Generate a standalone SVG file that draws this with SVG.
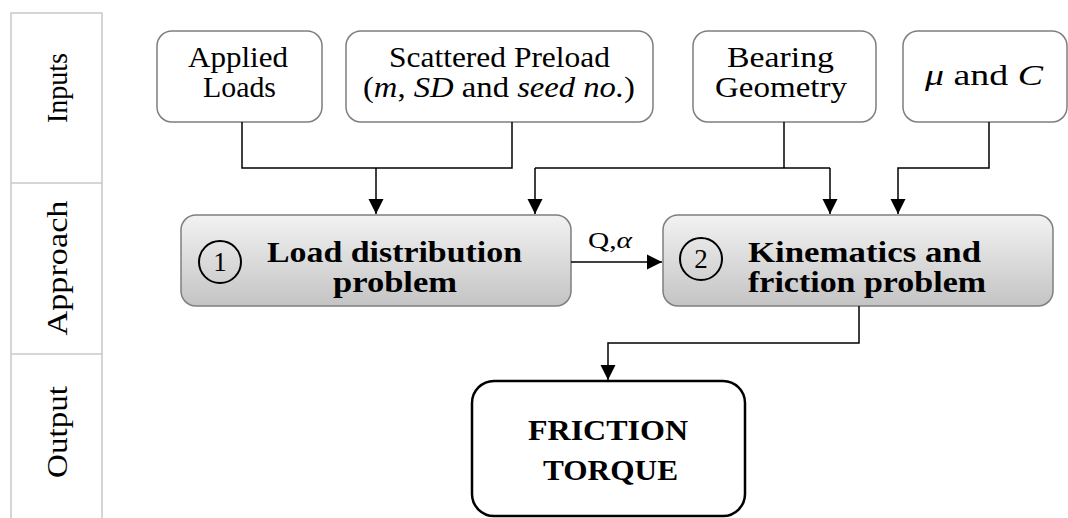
<svg xmlns="http://www.w3.org/2000/svg" width="1068" height="518" viewBox="0 0 1068 518">
<style>
text{font-family:"Liberation Serif","Times New Roman",serif;fill:#000}
.in{font-size:29px;text-anchor:middle}
.b{font-size:29px;font-weight:bold;text-anchor:middle}
.side{font-size:30px;text-anchor:middle}
.ibox{fill:#fff;stroke:#7f7f7f;stroke-width:1.5}
.pbox{fill:url(#g);stroke:#7f7f7f;stroke-width:1.5}
.num{fill:none;stroke:#000;stroke-width:2}
.conn{fill:none;stroke:#000;stroke-width:1.5}
</style>
<defs>
<linearGradient id="g" x1="0" y1="0" x2="0" y2="1">
<stop offset="0" stop-color="#f2f2f2"/>
<stop offset="1" stop-color="#c4c4c4"/>
</linearGradient>
<marker id="ah" markerUnits="userSpaceOnUse" markerWidth="16" markerHeight="16" refX="15" refY="8" orient="auto" viewBox="0 0 16 16">
<path d="M0,0.5 L15,8 L0,15.5 z" fill="#000"/>
</marker>
</defs>
<rect width="1068" height="518" fill="#fff"/>

<g id="side-panel">
<path d="M11,518 V13 H102 V518" fill="none" stroke="#c8c8c8" stroke-width="1.5"/>
<line x1="11" y1="183" x2="102" y2="183" stroke="#c8c8c8" stroke-width="1.5"/>
<line x1="11" y1="354" x2="102" y2="354" stroke="#c8c8c8" stroke-width="1.5"/>
<text class="side" transform="translate(67,88) rotate(-90)" textLength="70" lengthAdjust="spacingAndGlyphs">Inputs</text>
<text class="side" transform="translate(67,268) rotate(-90)" textLength="135" lengthAdjust="spacingAndGlyphs">Approach</text>
<text class="side" transform="translate(67,432) rotate(-90)" textLength="92" lengthAdjust="spacingAndGlyphs">Output</text>
</g>

<g id="applied-loads">
<rect class="ibox" x="157" y="31" width="165" height="91" rx="15"/>
<text class="in" x="238" y="67" textLength="100" lengthAdjust="spacingAndGlyphs">Applied</text>
<text class="in" x="239.5" y="97" textLength="73" lengthAdjust="spacingAndGlyphs">Loads</text>
</g>

<g id="scattered-preload">
<rect class="ibox" x="346" y="31" width="307" height="91" rx="15"/>
<text class="in" x="499.5" y="67" textLength="221" lengthAdjust="spacingAndGlyphs">Scattered Preload</text>
<text class="in" x="499" y="97" textLength="272" lengthAdjust="spacingAndGlyphs">(<tspan font-style="italic">m</tspan>, <tspan font-style="italic">SD</tspan> and <tspan font-style="italic">seed no.</tspan>)</text>
</g>

<g id="bearing-geometry">
<rect class="ibox" x="693" y="31" width="183" height="91" rx="15"/>
<text class="in" x="780.5" y="67" textLength="107" lengthAdjust="spacingAndGlyphs">Bearing</text>
<text class="in" x="781" y="97" textLength="132" lengthAdjust="spacingAndGlyphs">Geometry</text>
</g>

<g id="mu-and-c">
<rect class="ibox" x="903" y="31" width="164" height="91" rx="15"/>
<text class="in" x="984" y="85" textLength="118" lengthAdjust="spacingAndGlyphs"><tspan font-style="italic">μ</tspan> and <tspan font-style="italic">C</tspan></text>
</g>

<g id="load-distribution">
<rect class="pbox" x="181" y="215" width="390" height="91" rx="15"/>
<circle class="num" cx="220" cy="262" r="21"/>
<text x="220" y="271" font-size="27" text-anchor="middle">1</text>
<text class="b" x="394.5" y="262" textLength="255" lengthAdjust="spacingAndGlyphs">Load distribution</text>
<text class="b" x="395" y="292" textLength="124" lengthAdjust="spacingAndGlyphs">problem</text>
</g>

<g id="kinematics-friction">
<rect class="pbox" x="663" y="215" width="390" height="91" rx="15"/>
<circle class="num" cx="701" cy="259" r="21"/>
<text x="701" y="268" font-size="27" text-anchor="middle">2</text>
<text class="b" x="864.5" y="262" textLength="233" lengthAdjust="spacingAndGlyphs">Kinematics and</text>
<text class="b" x="867" y="292" textLength="238" lengthAdjust="spacingAndGlyphs">friction problem</text>
</g>

<g id="friction-torque">
<rect x="472" y="381" width="273" height="135" rx="22" fill="#fff" stroke="#000" stroke-width="2.5"/>
<text class="b" x="608" y="440" textLength="160" lengthAdjust="spacingAndGlyphs">FRICTION</text>
<text class="b" x="610.5" y="480" textLength="135" lengthAdjust="spacingAndGlyphs">TORQUE</text>
</g>

<g id="connectors">
<path class="conn" d="M242,122 V168 H512 V122"/>
<path class="conn" d="M376,168 V214" marker-end="url(#ah)"/>
<path class="conn" d="M784,122 V168"/>
<path class="conn" d="M535,168 H830"/>
<path class="conn" d="M535,168 V214" marker-end="url(#ah)"/>
<path class="conn" d="M830,168 V214" marker-end="url(#ah)"/>
<path class="conn" d="M989,122 V168 H898 V214" marker-end="url(#ah)"/>
<path class="conn" d="M571,262 H662" marker-end="url(#ah)"/>
<text x="610" y="248" font-size="24" text-anchor="middle" textLength="44" lengthAdjust="spacingAndGlyphs">Q,<tspan font-style="italic">α</tspan></text>
<path class="conn" d="M859,306 V343 H608 V380" marker-end="url(#ah)"/>
</g>
</svg>
